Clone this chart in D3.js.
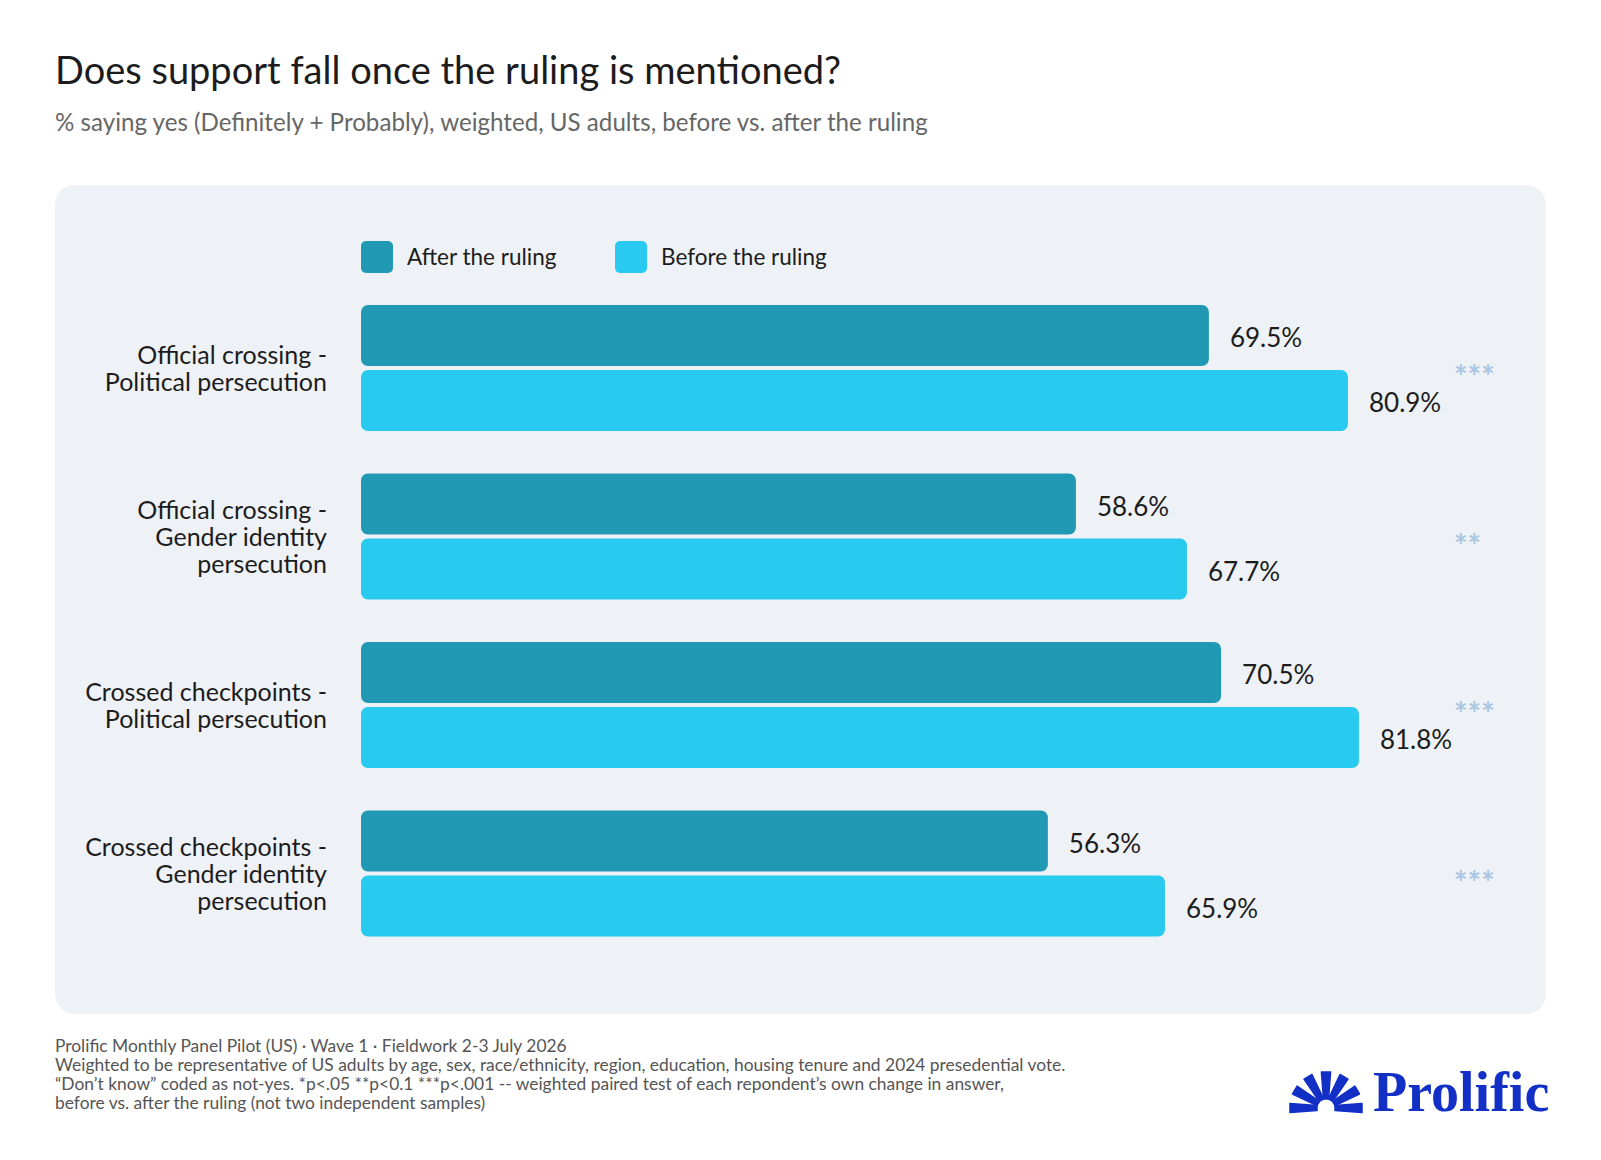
<!DOCTYPE html>
<html>
<head>
<meta charset="utf-8">
<script src="https://cdn.jsdelivr.net/npm/d3@7"></script>
<style>
  html, body { margin: 0; padding: 0; background: #ffffff; }
  svg { display: block; }
  text { font-family: Lato, "Noto Sans", sans-serif; }
  text.logo { font-family: "Liberation Serif", "DejaVu Serif", serif; }
</style>
</head>
<body>
<svg id="chart" width="1601" height="1160"></svg>
<script>
// ---- data ----
const categories = [
  ["Official crossing -", "Political persecution"],
  ["Official crossing -", "Gender identity", "persecution"],
  ["Crossed checkpoints -", "Political persecution"],
  ["Crossed checkpoints -", "Gender identity", "persecution"]
];
const afterValues = [69.5, 58.6, 70.5, 56.3];
const beforeValues = [80.9, 67.7, 81.8, 65.9];
const significance = ["***", "**", "***", "***"];
const seriesNames = ["After the ruling", "Before the ruling"];
const titleText = "Does support fall once the ruling is mentioned?";
const subtitleText = "% saying yes (Definitely + Probably), weighted, US adults, before vs. after the ruling";
const footerLines = [
  "Prolific Monthly Panel Pilot (US) \u00b7 Wave 1 \u00b7 Fieldwork 2-3 July 2026",
  "Weighted to be representative of US adults by age, sex, race/ethnicity, region, education, housing tenure and 2024 presedential vote.",
  "\u201cDon\u2019t know\u201d coded as not-yes. *p<.05 **p<0.1 ***p<.001 -- weighted paired test of each repondent\u2019s own change in answer,",
  "before vs. after the ruling (not two independent samples)"
];

// ---- styles ----
const colors = { after: "#2199B4", before: "#29CAEF" };
const svg = d3.select("#chart");

// title & subtitle
svg.append("text").attr("x", 55).attr("y", 84)
  .attr("font-size", 38).attr("fill", "#1c1c1c").text(titleText);
svg.append("text").attr("x", 55).attr("y", 131)
  .attr("font-size", 24.15).attr("fill", "#666666").text(subtitleText);

// panel
svg.append("rect").attr("x", 55).attr("y", 185).attr("width", 1491).attr("height", 829)
  .attr("rx", 20).attr("fill", "#EEF1F6");

// scales
const keys = ["after", "before"];
const x = d3.scaleLinear().domain([0, 100]).range([361, 1581]);
const y = d3.scaleBand().domain(d3.range(categories.length))
  .range([305, 936.5]).paddingInner(42.5 / 168.5).paddingOuter(0);
const ySub = d3.scaleBand().domain(keys).range([0, y.bandwidth()]).paddingInner(4 / 65);

const rows = categories.map((c, i) => ({
  i, label: c, after: afterValues[i], before: beforeValues[i], sig: significance[i]
}));

// legend
const legend = svg.append("g");
const legendX = [361, 615];
seriesNames.forEach((name, k) => {
  legend.append("rect").attr("x", legendX[k]).attr("y", 241).attr("width", 32).attr("height", 32)
    .attr("rx", 5).attr("fill", colors[keys[k]]);
  legend.append("text").attr("x", legendX[k] + 46).attr("y", 265)
    .attr("font-size", 22.5).attr("fill", "#1c1c1c").text(name);
});

// groups
const g = svg.selectAll("g.row").data(rows).join("g").attr("class", "row")
  .attr("transform", d => `translate(0,${y(d.i)})`);

g.selectAll("rect.bar").data(d => keys.map(k => ({ k, v: d[k] }))).join("rect")
  .attr("class", "bar")
  .attr("x", x(0)).attr("y", d => ySub(d.k))
  .attr("width", d => x(d.v) - x(0)).attr("height", ySub.bandwidth())
  .attr("rx", 7).attr("fill", d => colors[d.k]);

g.selectAll("text.val").data(d => keys.map(k => ({ k, v: d[k] }))).join("text")
  .attr("class", "val")
  .attr("x", d => x(d.v) + 21)
  .attr("y", d => ySub(d.k) + ySub.bandwidth() / 2 + 11.5)
  .attr("font-size", 26).attr("fill", "#1c1c1c")
  .text(d => d.v.toFixed(1) + "%");

// category labels
const lineH = 27;
g.append("text")
  .attr("text-anchor", "end").attr("font-size", 25).attr("fill", "#1c1c1c")
  .each(function (d) {
    const t = d3.select(this);
    const n = d.label.length;
    const c = y.bandwidth() / 2;
    d.label.forEach((line, j) => {
      t.append("tspan").attr("x", 327)
        .attr("y", c + 9.5 + (j - (n - 1) / 2) * lineH).text(line);
    });
  });

// significance markers
g.append("text")
  .attr("x", 1454).attr("y", y.bandwidth() / 2 + 21)
  .attr("font-size", 32).attr("font-weight", 700).attr("fill", "#A9C6E2")
  .text(d => d.sig);

// footer
svg.append("g").selectAll("text").data(footerLines).join("text")
  .attr("x", 55).attr("y", (d, i) => 1052 + i * 18.9)
  .attr("font-size", 17.4).attr("fill", "#555555").text(d => d);

// logo
const logo = svg.append("g");
const cx = 1326, cy = 1108;
const rayAngles = d3.range(7).map(k => Math.PI - k * Math.PI / 6);
rayAngles.forEach(a => {
  const r0 = 9, r1 = 36, w0 = 2.5, w1 = 4.6;
  const ux = Math.cos(a), uy = -Math.sin(a), px = -uy, py = ux;
  const pts = [
    [cx + ux * r0 + px * w0, cy + uy * r0 + py * w0],
    [cx + ux * r1 + px * w1, cy + uy * r1 + py * w1],
    [cx + ux * r1 - px * w1, cy + uy * r1 - py * w1],
    [cx + ux * r0 - px * w0, cy + uy * r0 - py * w0]
  ];
  logo.append("path").attr("d", d3.line()(pts) + "Z").attr("fill", "#1230C6")
    .attr("stroke", "#1230C6").attr("stroke-width", 1.5).attr("stroke-linejoin", "round");
});
logo.append("text").attr("class", "logo").attr("x", 1373).attr("y", 1111)
  .attr("font-weight", 700)
  .attr("font-size", 56).attr("fill", "#1230C6").text("Prolific");
</script>
</body>
</html>
